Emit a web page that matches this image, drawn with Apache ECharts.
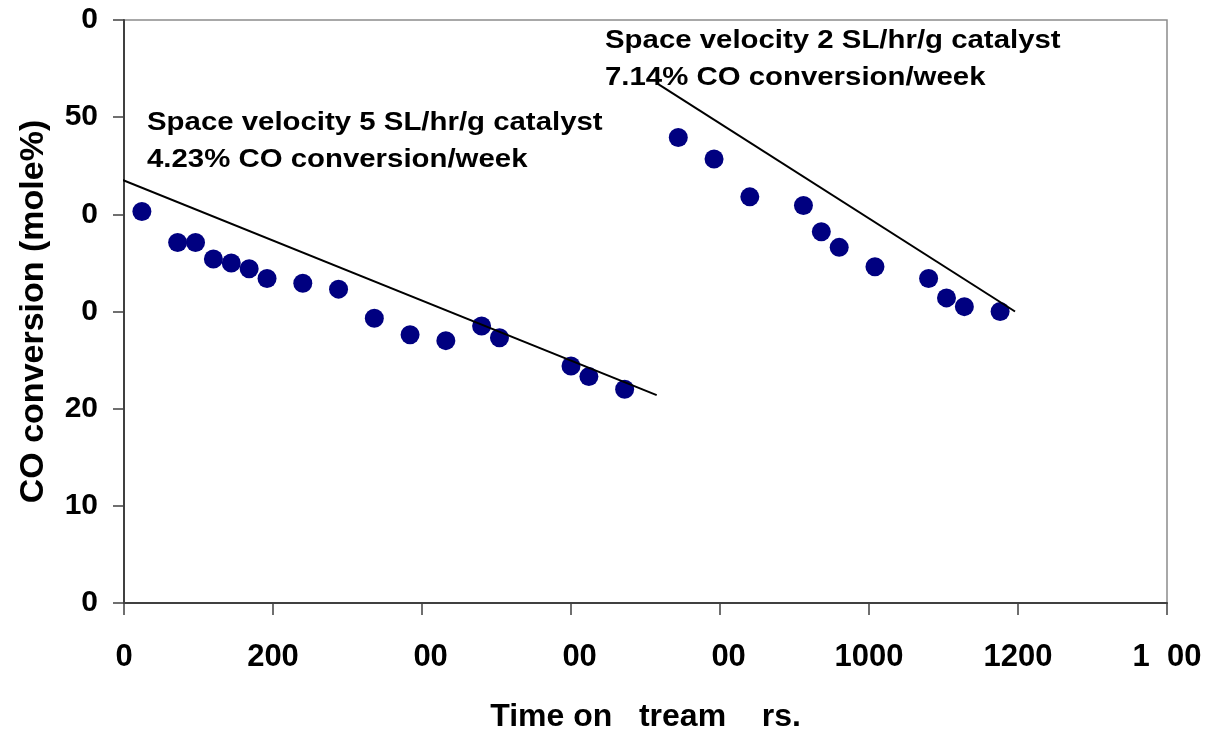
<!DOCTYPE html>
<html><head><meta charset="utf-8">
<script src="https://cdn.jsdelivr.net/npm/echarts@6/dist/echarts.min.js"></script>
<style>html,body{margin:0;padding:0;background:#fff}#c{width:1215px;height:738px}</style>
</head><body><div id="c"></div>
<script>
// Data
const hours1 = [24, 72, 96, 120, 144, 168, 192, 240, 288, 336, 384, 432, 480, 504, 600, 624, 672];
const conv1  = [40.3, 37.1, 37.1, 35.4, 35.0, 34.4, 33.4, 32.9, 32.3, 29.3, 27.6, 27.0, 28.5, 27.3, 24.4, 23.3, 22.0];
const hours2 = [744, 792, 840, 912, 936, 960, 1008, 1080, 1104, 1128, 1176];
const conv2  = [47.9, 45.7, 41.8, 40.9, 38.2, 36.6, 34.6, 33.4, 31.4, 30.5, 30.0];
const trend1X = [-4, 715];
const trend1Y = [43.6, 21.4];
const trend2X = [715, 1196];
const trend2Y = [53.5, 30.0];
const xTickLabels = ['0', '200', '\u200700', '\u200700', '\u200700', '1000', '1200', '1\u200700'];
const yTickLabels = ['0', '10', '20', '0', '0', '50', '0'];
const annotation1 = ['Space velocity 5 SL/hr/g catalyst', '4.23% CO conversion/week'];
const annotation2 = ['Space velocity 2 SL/hr/g catalyst', '7.14% CO conversion/week'];
const xTitle = 'Time on   tream    rs.';
const yTitle = 'CO conversion (mole%)';

const FONT = '"Liberation Sans", Arial, sans-serif';
const pairs = (xs, ys) => xs.map((x, i) => [x, ys[i]]);
const axisColor = '#404040';

const chart = echarts.init(document.getElementById('c'), null, {renderer: 'canvas'});
chart.setOption({
  animation: false,
  backgroundColor: '#ffffff',
  grid: {left: 124, right: 48, top: 20, bottom: 134, show: true, borderColor: '#8c8c8c', borderWidth: 1.5, backgroundColor: 'transparent'},
  xAxis: {
    type: 'value', min: 0, max: 1400, interval: 200,
    name: xTitle, nameLocation: 'middle', nameGap: 98,
    nameTextStyle: {fontFamily: FONT, fontWeight: 'bold', fontSize: 32, color: '#000'},
    axisLine: {show: true, onZero: false, lineStyle: {color: axisColor, width: 2}},
    axisTick: {show: true, length: 12, lineStyle: {color: axisColor, width: 1.5}},
    axisLabel: {margin: 39, fontFamily: FONT, fontWeight: 'bold', fontSize: 31, color: '#000',
      formatter: v => xTickLabels[Math.round(v / 200)]},
    splitLine: {show: false}
  },
  yAxis: {
    type: 'value', min: 0, max: 60, interval: 10,
    name: yTitle, nameLocation: 'middle', nameGap: 73,
    nameTextStyle: {fontFamily: FONT, fontWeight: 'bold', fontSize: 34, color: '#000'},
    axisLine: {show: true, onZero: false, lineStyle: {color: axisColor, width: 2}},
    axisTick: {show: true, length: 11, lineStyle: {color: axisColor, width: 1.5}},
    axisLabel: {margin: 26, fontFamily: FONT, fontWeight: 'bold', fontSize: 30, color: '#000',
      formatter: v => yTickLabels[Math.round(v / 10)]},
    splitLine: {show: false}
  },
  series: [
    {type: 'line', data: pairs(trend1X, trend1Y), symbol: 'none', clip: false, silent: true,
      lineStyle: {color: '#000', width: 2}, z: 3},
    {type: 'line', data: pairs(trend2X, trend2Y), symbol: 'none', clip: false, silent: true,
      lineStyle: {color: '#000', width: 2}, z: 3},
    {type: 'scatter', data: pairs(hours1, conv1), symbol: 'circle', symbolSize: 19,
      itemStyle: {color: '#000080', opacity: 1}, z: 2},
    {type: 'scatter', data: pairs(hours2, conv2), symbol: 'circle', symbolSize: 19,
      itemStyle: {color: '#000080', opacity: 1}, z: 2}
  ],
  graphic: [
    {type: 'text', x: 147, y: 104, scaleX: 1.13, z: 10,
      style: {text: annotation1.join('\n'), font: 'bold 26px ' + FONT, lineHeight: 37, fill: '#000', verticalAlign: 'top', align: 'left'}},
    {type: 'text', x: 605, y: 22, scaleX: 1.13, z: 10,
      style: {text: annotation2.join('\n'), font: 'bold 26px ' + FONT, lineHeight: 37, fill: '#000', verticalAlign: 'top', align: 'left'}}
  ]
});
</script>
</body></html>
